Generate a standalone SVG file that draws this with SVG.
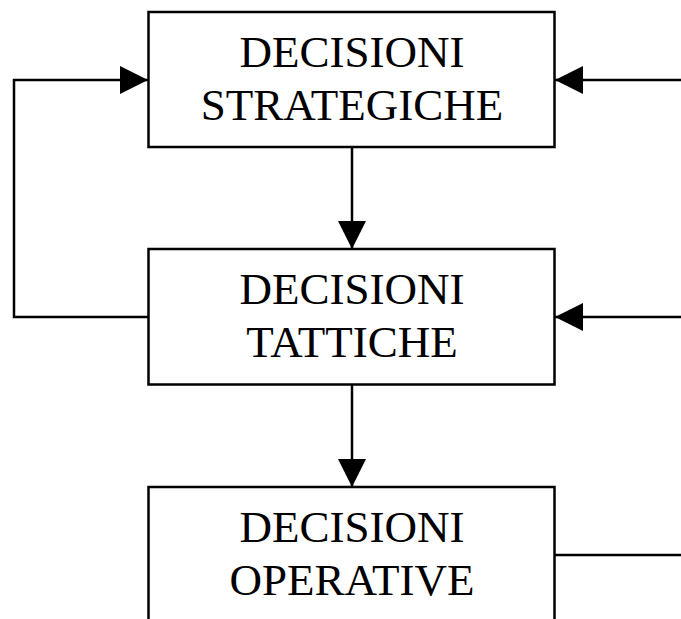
<svg xmlns="http://www.w3.org/2000/svg" width="681" height="619" viewBox="0 0 681 619">
<style>
.box{fill:#fff;stroke:#000;stroke-width:2.5}
.lbl{font-family:"Liberation Serif","Times New Roman",serif;font-size:45px;fill:#000;text-anchor:middle}
.ln{fill:none;stroke:#000;stroke-width:2.5}
</style>
<defs>
<marker id="ah" viewBox="0 0 28 28" refX="28" refY="14" markerWidth="28" markerHeight="28" markerUnits="userSpaceOnUse" orient="auto">
<path d="M0,0 L28,14 L0,28 Z" fill="#000"/>
</marker>
</defs>
<rect width="681" height="619" fill="#fff"/>
<g id="connectors">
<path class="ln" d="M148,317 H14 V80 H148" marker-end="url(#ah)"/>
<path class="ln" d="M681,80 H555" marker-end="url(#ah)"/>
<path class="ln" d="M681,317 H555" marker-end="url(#ah)"/>
<path class="ln" d="M352,147 V249" marker-end="url(#ah)"/>
<path class="ln" d="M352,385 V487" marker-end="url(#ah)"/>
<path class="ln" d="M555,555 H681"/>
</g>
<g id="strategiche">
<rect class="box" x="148.5" y="12" width="406" height="135"/>
<text class="lbl" x="352" y="67">DECISIONI</text>
<text class="lbl" x="352" y="120">STRATEGICHE</text>
</g>
<g id="tattiche">
<rect class="box" x="148.5" y="249" width="406" height="135.5"/>
<text class="lbl" x="352" y="304">DECISIONI</text>
<text class="lbl" x="352" y="357">TATTICHE</text>
</g>
<g id="operative">
<rect class="box" x="148.5" y="487" width="406" height="160"/>
<text class="lbl" x="352" y="542">DECISIONI</text>
<text class="lbl" x="352" y="595">OPERATIVE</text>
</g>
</svg>
